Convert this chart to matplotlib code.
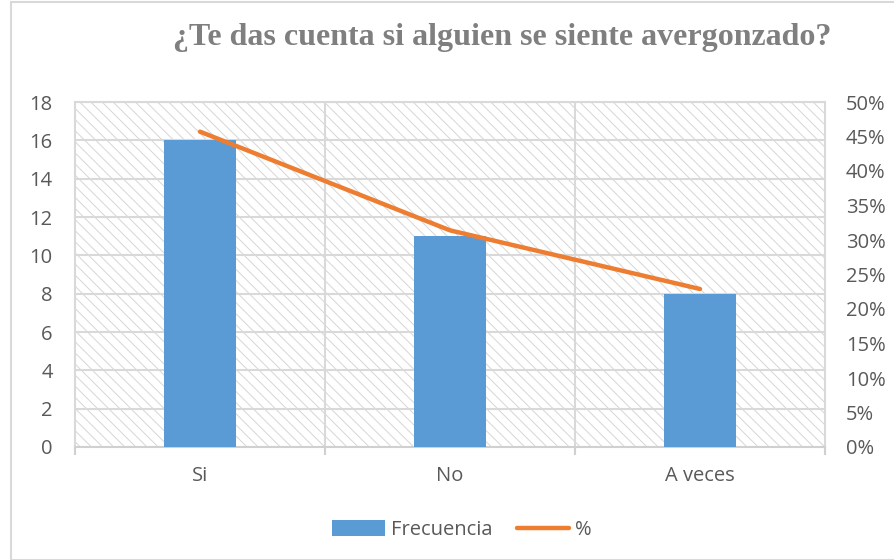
import matplotlib.pyplot as plt
from matplotlib.patches import Rectangle
from matplotlib.ticker import FuncFormatter
import numpy as np

categorias = ["Si", "No", "A veces"]
frecuencia = [16, 11, 8]
porcentaje = [0.457, 0.314, 0.229]
ticks_izq = [0, 2, 4, 6, 8, 10, 12, 14, 16, 18]
ticks_der = [0, 0.05, 0.10, 0.15, 0.20, 0.25, 0.30, 0.35, 0.40, 0.45, 0.50]

azul = '#5b9bd5'
naranja = '#ed7d31'
gris_txt = '#595959'
gris_rej = '#d9d9d9'
fs = 14.5

plt.rcParams['font.family'] = ['Open Sans', 'DejaVu Sans']
plt.rcParams['hatch.linewidth'] = 0.7
plt.rcParams['hatch.color'] = '#d6d6d6'

fig = plt.figure(figsize=(8.95, 5.6), dpi=100)
ax = fig.add_axes([75/895, 1-447/560, 750/895, 345/560])

# fondo rayado del área de trazado
ax.add_patch(Rectangle((0, 0), 1, 1, transform=ax.transAxes, facecolor='white',
                       edgecolor='#d6d6d6', hatch='\\\\\\', linewidth=0, zorder=0))

x = np.arange(len(categorias))
ax.bar(x, frecuencia, width=0.285, color=azul, zorder=3, label='Frecuencia')
ax.set_xlim(-0.5, 2.5)
ax.set_ylim(0, 18)
ax.set_yticks(ticks_izq)
ax.set_xticks(x)
ax.set_xticklabels(categorias)
ax.set_xticks([-0.5, 0.5, 1.5, 2.5], minor=True)

for v in ticks_izq[1:]:
    ax.axhline(v, color=gris_rej, lw=1.5, zorder=1)
for b in [0.5, 1.5]:
    ax.axvline(b, color=gris_rej, lw=1.5, zorder=1)

for s in ['top', 'right', 'left']:
    ax.spines[s].set_color(gris_rej)
    ax.spines[s].set_linewidth(1.5)
ax.spines['bottom'].set_color('#d0d0d0')
ax.spines['bottom'].set_linewidth(1.5)

ax.tick_params(axis='y', length=0, labelsize=fs, labelcolor=gris_txt, pad=16)
ax.tick_params(axis='x', which='major', length=0, labelsize=fs, labelcolor=gris_txt, pad=14)
ax.tick_params(axis='x', which='minor', length=6, width=1.5, color='#d0d0d0')

ax2 = ax.twinx()
ax2.plot(x, porcentaje, color=naranja, lw=3.2, solid_capstyle='round', zorder=4, label='%')
ax2.set_ylim(0, 0.5)
ax2.set_yticks(ticks_der)
ax2.yaxis.set_major_formatter(FuncFormatter(lambda v, p: f"{round(v*100)}%"))
ax2.tick_params(axis='y', length=0, labelsize=fs, labelcolor=gris_txt, pad=15)
for s in ax2.spines.values():
    s.set_visible(False)

fig.text(502/895, 1-38/560, "¿Te das cuenta si alguien se siente avergonzado?",
         ha='center', va='center', fontsize=23, fontweight='bold',
         family='Liberation Serif', color='#7f7f7f')

h1, l1 = ax.get_legend_handles_labels()
h2, l2 = ax2.get_legend_handles_labels()
fig.legend(h1 + h2, l1 + l2, loc='center', bbox_to_anchor=(462/895, 1-530/560),
           ncol=2, frameon=False, fontsize=fs, labelcolor=gris_txt,
           handlelength=2.6, handleheight=0.8, columnspacing=1.2, handletextpad=0.3)

# borde del gráfico
fig.patches.append(Rectangle((11/895, 0), 1.0, 1 - 2/560, transform=fig.transFigure,
                             fill=False, edgecolor='#d9d9d9', linewidth=1.5))

fig.savefig('out.png', dpi=100)
